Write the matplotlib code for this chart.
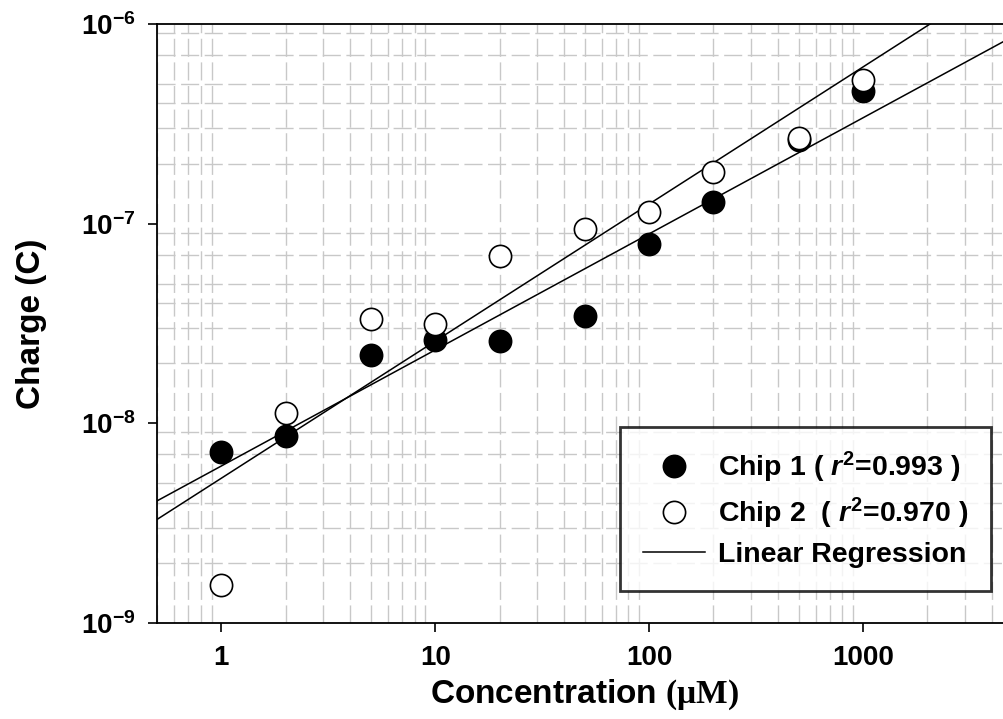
import numpy as np
import matplotlib
matplotlib.use("Agg")
import matplotlib.pyplot as plt
from matplotlib.lines import Line2D
from matplotlib.ticker import LogLocator, NullFormatter

plt.rcParams["font.family"] = ["Liberation Sans", "DejaVu Sans"]
plt.rcParams["font.weight"] = "bold"
plt.rcParams["mathtext.fontset"] = "custom"
plt.rcParams["mathtext.rm"] = "Liberation Sans:bold"
plt.rcParams["mathtext.bf"] = "Liberation Sans:bold"
plt.rcParams["mathtext.it"] = "Liberation Sans:italic:bold"
plt.rcParams["mathtext.sf"] = "Liberation Serif"

# values
conc = [1, 2, 5, 10, 20, 50, 100, 200, 500, 1000]
chip1 = [7.2e-9, 8.6e-9, 2.2e-8, 2.6e-8, 2.57e-8, 3.43e-8, 7.9e-8, 1.29e-7, 2.62e-7, 4.6e-7]
chip2 = [1.55e-9, 1.13e-8, 3.35e-8, 3.16e-8, 6.9e-8, 9.4e-8, 1.15e-7, 1.82e-7, 2.69e-7, 5.25e-7]
legend_labels = [r"Chip 1 ( $r^{2}$=0.993 )", r"Chip 2  ( $r^{2}$=0.970 )", "Linear Regression"]
xticks = [1, 10, 100, 1000]
xticklabels = ["1", "10", "100", "1000"]
yticks = [1e-9, 1e-8, 1e-7, 1e-6]
yticklabels = [r"$10^{-9}$", r"$10^{-8}$", r"$10^{-7}$", r"$10^{-6}$"]


def fit_line(x, y, xr):
    # straight line in log-log space
    k, b = np.polyfit(np.log10(x), np.log10(y), 1)
    return 10 ** (b + k * np.log10(xr))


fig = plt.figure(figsize=(10.04, 7.19), dpi=100)
ax = fig.add_axes([0.1564, 0.1335, 0.852, 0.8331])
ax.set_xscale("log")
ax.set_yscale("log")
ax.set_xlim(0.5, 5000)
ax.set_ylim(1e-9, 1e-6)

xr = np.array([0.5, 5000])
ax.plot(xr, fit_line(conc, chip1, xr), color="black", lw=1.1, zorder=3)
ax.plot(xr, fit_line(conc, chip2, xr), color="black", lw=1.1, zorder=3)
ax.plot(conc, chip1, "o", ms=16, mfc="black", mec="black", mew=1.2, zorder=4)
ax.plot(conc, chip2, "o", ms=16, mfc="white", mec="black", mew=1.2, zorder=5)

# grid only on minor positions, dashed light grey
ax.xaxis.set_minor_locator(LogLocator(base=10, subs=np.arange(2, 10), numticks=20))
ax.yaxis.set_minor_locator(LogLocator(base=10, subs=(2, 3, 4, 5, 7, 9), numticks=20))
ax.xaxis.set_minor_formatter(NullFormatter())
ax.yaxis.set_minor_formatter(NullFormatter())
ax.grid(which="minor", color="#c8c8c8", linestyle=(0, (13, 4)), linewidth=1.0)
ax.grid(which="major", visible=False)
ax.set_axisbelow(True)

ax.set_xticks(xticks)
ax.set_xticklabels(xticklabels)
ax.set_yticks(yticks)
ax.set_yticklabels(yticklabels)
ax.tick_params(which="major", direction="out", length=6.5, width=1.2,
               labelsize=20, pad=9)
ax.tick_params(which="minor", length=0)
for lab in ax.get_xticklabels() + ax.get_yticklabels():
    lab.set_fontweight("bold")
for s in ax.spines.values():
    s.set_linewidth(1.3)

ax.set_xlabel(r"Concentration $\mathsf{(\mu M)}$", fontsize=24, fontweight="bold", labelpad=5)
ax.set_ylabel("Charge (C)", fontsize=24, fontweight="bold", labelpad=24)

handles = [
    Line2D([], [], ls="none", marker="o", ms=16, mfc="black", mec="black", mew=1.2),
    Line2D([], [], ls="none", marker="o", ms=16, mfc="white", mec="black", mew=1.2),
    Line2D([], [], color="black", lw=1.1),
]
leg = ax.legend(handles, legend_labels, loc="upper left", bbox_to_anchor=(0.541, 0.327),
                borderaxespad=0, fontsize=20.5, frameon=True, fancybox=False,
                edgecolor="black", handlelength=2.2, handletextpad=0.44,
                borderpad=0.8, labelspacing=0.38)
leg.get_frame().set_linewidth(2.0)
leg.set_zorder(10)

fig.savefig("out.png", dpi=100, facecolor="white")
